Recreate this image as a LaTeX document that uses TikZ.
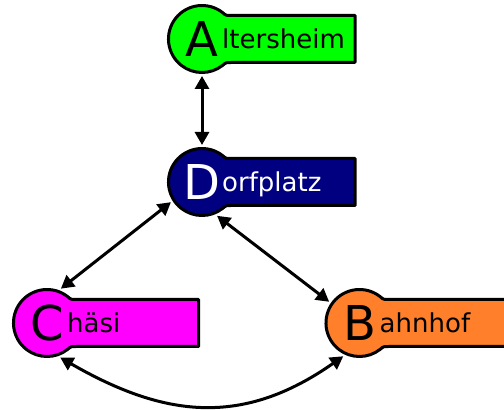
\documentclass[tikz,border=0pt]{standalone}
\usepackage{fontspec}
\setmainfont{DejaVu Sans}
\usepackage{xcolor}
\usepackage{tikz}
\usetikzlibrary{arrows.meta}
\definecolor{altgreen}{RGB}{0,255,0}
\definecolor{dorfblue}{RGB}{0,0,128}
\definecolor{chaesipink}{RGB}{255,0,255}
\definecolor{bahnorange}{RGB}{255,127,42}
\tikzset{
        link/.style={{Triangle[length=13pt,width=14pt]}-{Triangle[length=13pt,width=14pt]},line width=3pt,black},
        halt/.style={circle,minimum size=70pt,inner sep=0pt,outer sep=2pt},
        bigletter/.style={font=\fontsize{48}{48}\selectfont,anchor=base,inner sep=0pt},
        stoptext/.style={font=\fontsize{26}{26}\selectfont,anchor=base west,inner sep=0pt}
    }
% #1 name, #2 x, #3 y, #4 fill, #5 text colour, #6 letter, #7 rest, #8 end of bar
\newcommand{\station}[8]{
    \filldraw[#4,draw=black,line width=3pt,line join=round]
        (#2+29,#3+23.5) .. controls (#2+23.9,#3+23.5) .. (#2+20.6,#3+26.4)
        arc[start angle=52,end angle=308,radius=33.5pt]
        .. controls (#2+23.9,#3-23.5) .. (#2+29,#3-23.5)
        -- (#8,#3-23.5) -- (#8,#3+23.5) -- cycle;
    \node[halt] (#1) at (#2,#3) {};
    \node[bigletter,text=#5] (#1-big) at (#2,#3-17.5) {#6};
    \node[stoptext,text=#5] (#1-text) at (#2+20,#3-9.5) {#7};
}

\begin{document}
\begin{tikzpicture}[x=1pt,y=1pt]
            \useasboundingbox (0,0) rectangle (504,410);
            \station{alt}{202}{371}{altgreen}{black}{A}{ltersheim}{355}
            \station{dorf}{202}{228}{dorfblue}{white}{D}{orfplatz}{355}
            \station{chaesi}{47}{87}{chaesipink}{black}{C}{häsi}{198.5}
            \station{bahnhof}{359.5}{87}{bahnorange}{black}{B}{ahnhof}{520}
            \draw[link] (alt) -- (dorf);
            \draw[link] (dorf.213) -- (chaesi.68);
            \draw[link] (dorf.-66) -- (bahnhof.145);
            \draw[link] (chaesi.-69) to[out=-30,in=-145,looseness=1.1] (bahnhof.-116);
          \end{tikzpicture}
\end{document}
